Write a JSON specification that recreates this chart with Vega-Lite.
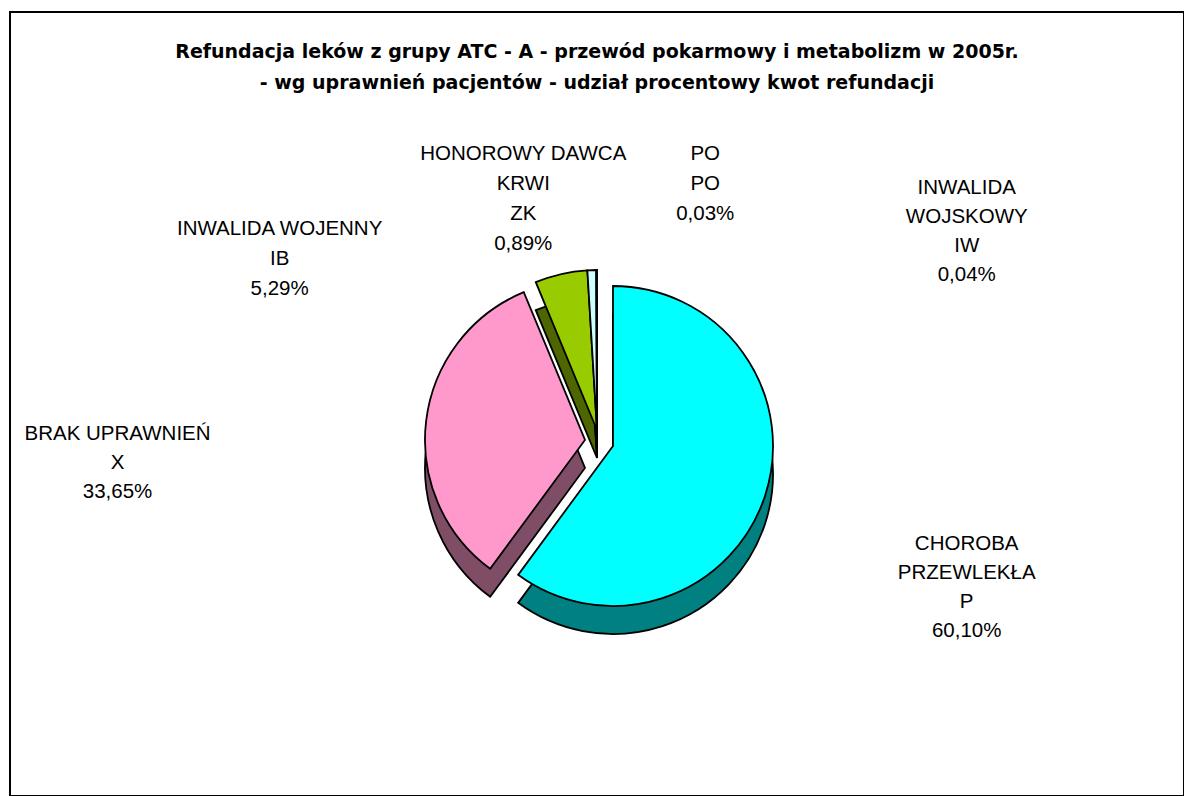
{
  "$schema": "https://vega.github.io/schema/vega-lite/v6.json",
  "autosize": "none",
  "width": 1174,
  "height": 784,
  "padding": {"left": 10, "top": 12, "right": 0, "bottom": 0},
  "background": "white",
  "view": {"stroke": "#000000", "strokeWidth": 2},
  "config": {
    "font": "Liberation Sans"
  },
  "title": {
    "text": ["Refundacja leków z grupy ATC - A - przewód pokarmowy i metabolizm w 2005r.", "- wg uprawnień pacjentów - udział procentowy kwot refundacji"],
    "font": "DejaVu Sans",
    "fontSize": 19,
    "fontWeight": "bold",
    "color": "#000000",
    "lineHeight": 31,
    "anchor": "middle",
    "offset": -95
  },
  "data": {
    "values": [
      {"code": "P", "order": 1, "value": 60.10, "label": "CHOROBA\nPRZEWLEKŁA\nP\n60,10%"},
      {"code": "X", "order": 2, "value": 33.65, "label": "BRAK UPRAWNIEŃ\nX\n33,65%"},
      {"code": "IB", "order": 3, "value": 5.29, "label": "INWALIDA WOJENNY\nIB\n5,29%"},
      {"code": "ZK", "order": 4, "value": 0.89, "label": "HONOROWY DAWCA\nKRWI\nZK\n0,89%"},
      {"code": "PO", "order": 5, "value": 0.03, "label": "PO\nPO\n0,03%"},
      {"code": "IW", "order": 6, "value": 0.04, "label": "INWALIDA\nWOJSKOWY\nIW\n0,04%"}
    ]
  },
  "encoding": {
    "theta": {"field": "value", "type": "quantitative", "stack": true, "scale": {"domain": [0, 100]}},
    "order": {"field": "order", "type": "quantitative"}
  },
  "layer": [
    {
      "mark": {"type": "arc", "outerRadius": 160, "stroke": "#000000", "strokeWidth": 1.8, "x": {"expr": "width/2"}, "y": {"expr": "height/2 + 54"}},
      "encoding": {
        "fill": {"field": "code", "type": "nominal", "legend": null, "scale": {"domain": ["P", "X", "IB", "ZK", "PO", "IW"], "range": ["#008080", "#804D66", "#4D6600", "#668080", "#1a3366", "#000000"]}},
        "opacity": {"condition": {"test": "datum.code !== 'P' && datum.code !== 'X'", "value": 1}, "value": 0}
      }
    },
    {
      "mark": {"type": "arc", "outerRadius": 160, "stroke": "#000000", "strokeWidth": 1.8, "x": {"expr": "width/2"}, "y": {"expr": "height/2 + 26"}},
      "encoding": {
        "color": {"field": "code", "type": "nominal", "legend": null, "scale": {"domain": ["P", "X", "IB", "ZK", "PO", "IW"], "range": ["#00FFFF", "#FF99CC", "#99CC00", "#CCFFFF", "#3366FF", "#000000"]}},
        "opacity": {"condition": {"test": "datum.code !== 'P' && datum.code !== 'X'", "value": 1}, "value": 0}
      }
    },
    {
      "mark": {"type": "arc", "outerRadius": 160, "stroke": "#000000", "strokeWidth": 1.8, "x": {"expr": "width/2 - 12"}, "y": {"expr": "height/2 + 64"}},
      "encoding": {
        "fill": {"field": "code", "type": "nominal", "legend": null},
        "opacity": {"condition": {"test": "datum.code === 'X'", "value": 1}, "value": 0}
      }
    },
    {
      "mark": {"type": "arc", "outerRadius": 160, "stroke": "#000000", "strokeWidth": 1.8, "x": {"expr": "width/2 - 12"}, "y": {"expr": "height/2 + 36"}},
      "encoding": {
        "color": {"field": "code", "type": "nominal", "legend": null},
        "opacity": {"condition": {"test": "datum.code === 'X'", "value": 1}, "value": 0}
      }
    },
    {
      "mark": {"type": "arc", "outerRadius": 160, "stroke": "#000000", "strokeWidth": 1.8, "x": {"expr": "width/2 + 16"}, "y": {"expr": "height/2 + 70"}},
      "encoding": {
        "fill": {"field": "code", "type": "nominal", "legend": null},
        "opacity": {"condition": {"test": "datum.code === 'P'", "value": 1}, "value": 0}
      }
    },
    {
      "mark": {"type": "arc", "outerRadius": 160, "stroke": "#000000", "strokeWidth": 1.8, "x": {"expr": "width/2 + 16"}, "y": {"expr": "height/2 + 42"}},
      "encoding": {
        "color": {"field": "code", "type": "nominal", "legend": null},
        "opacity": {"condition": {"test": "datum.code === 'P'", "value": 1}, "value": 0}
      }
    },
    {
      "mark": {"type": "text", "radius": 387, "dx": 2, "dy": 19, "font": "Liberation Sans", "fontSize": 20.5, "lineHeight": 29, "lineBreak": "\n", "align": "center", "baseline": "middle", "color": "#000000"},
      "encoding": {"text": {"condition": {"test": "datum.code === 'P'", "field": "label"}, "value": ""}}
    },
    {
      "mark": {"type": "text", "radius": 485, "dx": 2, "dy": 89, "font": "Liberation Sans", "fontSize": 20.5, "lineHeight": 29, "lineBreak": "\n", "align": "center", "baseline": "middle", "color": "#000000"},
      "encoding": {"text": {"condition": {"test": "datum.code === 'X'", "field": "label"}, "value": ""}}
    },
    {
      "mark": {"type": "text", "radius": 153, "dx": -283, "dy": -26, "font": "Liberation Sans", "fontSize": 20.5, "lineHeight": 30, "lineBreak": "\n", "align": "center", "baseline": "middle", "color": "#000000"},
      "encoding": {"text": {"condition": {"test": "datum.code === 'IB'", "field": "label"}, "value": ""}}
    },
    {
      "mark": {"type": "text", "radius": 208, "dx": -67, "dy": -42, "font": "Liberation Sans", "fontSize": 20.5, "lineHeight": 30, "lineBreak": "\n", "align": "center", "baseline": "middle", "color": "#000000"},
      "encoding": {"text": {"condition": {"test": "datum.code === 'ZK'", "field": "label"}, "value": ""}}
    },
    {
      "mark": {"type": "text", "radius": 223, "dx": 109, "dy": -27, "font": "Liberation Sans", "fontSize": 20.5, "lineHeight": 30, "lineBreak": "\n", "align": "center", "baseline": "middle", "color": "#000000"},
      "encoding": {"text": {"condition": {"test": "datum.code === 'PO'", "field": "label"}, "value": ""}}
    },
    {
      "mark": {"type": "text", "radius": 175, "dx": 370, "dy": -41, "font": "Liberation Sans", "fontSize": 20.5, "lineHeight": 29, "lineBreak": "\n", "align": "center", "baseline": "middle", "color": "#000000"},
      "encoding": {"text": {"condition": {"test": "datum.code === 'IW'", "field": "label"}, "value": ""}}
    }
  ]
}
